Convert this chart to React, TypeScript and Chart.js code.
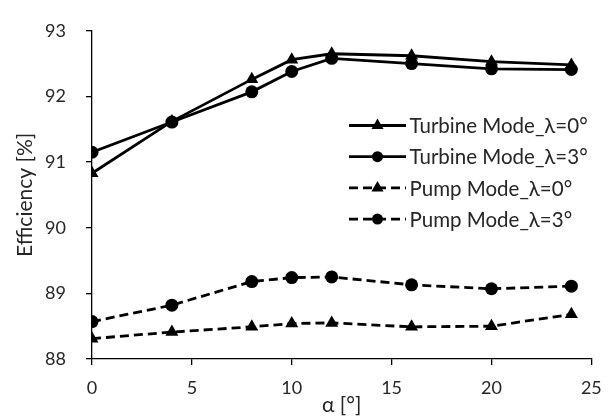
import React, { useEffect, useRef } from "react";
import { Chart, registerables } from "chart.js";

Chart.register(...registerables);

const alpha = [0, 4, 8, 10, 12, 16, 20, 24];
const turbine0 = [90.83, 91.62, 92.26, 92.56, 92.65, 92.62, 92.53, 92.48];
const turbine3 = [91.15, 91.61, 92.07, 92.38, 92.58, 92.5, 92.42, 92.41];
const pump0 = [88.31, 88.41, 88.49, 88.54, 88.55, 88.49, 88.5, 88.68];
const pump3 = [88.57, 88.82, 89.18, 89.24, 89.25, 89.13, 89.07, 89.11];
const seriesLabels = [
  "Turbine Mode_λ=0°",
  "Turbine Mode_λ=3°",
  "Pump Mode_λ=0°",
  "Pump Mode_λ=3°",
];
const xTitle = "α [°]";
const yTitle = "Efficiency [%]";

const FAMILY = "Lato";
const FONT = "Lato, sans-serif";
const TEXT = "#262626";

function fitSize(text: string, target: number, min: number, max: number) {
  const c = document.createElement("canvas").getContext("2d");
  if (!c) return (min + max) / 2;
  c.font = `100px ${FAMILY}`;
  const w = c.measureText(text).width;
  const s = (100 * target) / w;
  return Math.max(min, Math.min(max, Math.round(s * 2) / 2));
}

export default function App() {
  const ref = useRef<HTMLCanvasElement | null>(null);
  useEffect(() => {
    if (!ref.current) return;
    const tickSize = fitSize("93", 21, 15, 21);
    const titleSize = fitSize(yTitle, 125, 17, 24);
    const legendSize = fitSize(seriesLabels[0], 177, 16, 22);

    const legendPlugin = {
      id: "insideLegend",
      afterDatasetsDraw(chart: any) {
        const ctx = chart.ctx;
        const startX = 349;
        const lineLen = 57;
        const y0 = 125.5;
        const dy = 31.2;
        chart.data.datasets.forEach((ds: any, i: number) => {
          const y = y0 + i * dy;
          ctx.save();
          ctx.strokeStyle = "#000";
          ctx.lineWidth = ds.borderWidth;
          ctx.setLineDash(ds.borderDash || []);
          ctx.beginPath();
          ctx.moveTo(startX, y);
          ctx.lineTo(startX + lineLen, y);
          ctx.stroke();
          ctx.setLineDash([]);
          ctx.fillStyle = "#000";
          const cx = startX + lineLen / 2;
          ctx.beginPath();
          if (ds.pointStyle === "triangle") {
            const r = 7;
            ctx.moveTo(cx, y - r);
            ctx.lineTo(cx + r * 0.866, y + r * 0.5);
            ctx.lineTo(cx - r * 0.866, y + r * 0.5);
            ctx.closePath();
          } else {
            ctx.arc(cx, y, 5.5, 0, Math.PI * 2);
          }
          ctx.fill();
          ctx.font = `${legendSize}px ${FONT}`;
          ctx.textBaseline = "middle";
          ctx.textAlign = "left";
          ctx.fillStyle = TEXT;
          ctx.fillText(ds.label, startX + lineLen + 3.5, y + 1);
          ctx.restore();
        });
      },
    };

    const mk = (label: string, data: number[], dashed: boolean, style: string) => ({
      label,
      data: alpha.map((x, i) => ({ x, y: data[i] })),
      borderColor: "#000",
      backgroundColor: "#000",
      borderWidth: 2.8,
      borderDash: dashed ? [9, 5] : [],
      pointStyle: style,
      pointRadius: style === "triangle" ? 7.5 : 6.5,
      pointBorderWidth: 0,
      pointBackgroundColor: "#000",
      tension: 0,
    });
    const chart = new Chart(ref.current, {
      type: "line",
      data: {
        datasets: [
          mk(seriesLabels[0], turbine0, false, "triangle"),
          mk(seriesLabels[1], turbine3, false, "circle"),
          mk(seriesLabels[2], pump0, true, "triangle"),
          mk(seriesLabels[3], pump3, true, "circle"),
        ] as any,
      },
      options: {
        animation: false,
        responsive: false,
        layout: { padding: { top: 15, right: 22, left: 0, bottom: 0 } },
        plugins: { legend: { display: false }, tooltip: { enabled: false } },
        scales: {
          x: {
            type: "linear",
            min: 0,
            max: 25,
            ticks: { stepSize: 5, color: TEXT, font: { family: FONT, size: tickSize }, padding: 23 - tickSize * 0.6, maxRotation: 0 },
            grid: { drawOnChartArea: false, drawTicks: true, tickLength: 6, color: "#000", lineWidth: 1.3 },
            border: { display: true, color: "#000", width: 1.3 },
            title: { display: true, text: xTitle, color: TEXT, font: { family: FONT, size: titleSize }, padding: { top: 0, bottom: Math.max(0, 15 - titleSize * 0.6) } },
            afterFit: (s: any) => { s.height = 61; },
          },
          y: {
            min: 88,
            max: 93,
            ticks: { stepSize: 1, color: TEXT, font: { family: FONT, size: tickSize }, padding: 20 },
            grid: { drawOnChartArea: false, drawTicks: true, tickLength: 6, color: "#000", lineWidth: 1.3 },
            border: { display: true, color: "#000", width: 1.3 },
            title: { display: true, text: yTitle, color: TEXT, font: { family: FONT, size: titleSize }, padding: { top: Math.max(0, 25 - titleSize * 0.6), bottom: 0 } },
            afterFit: (s: any) => { s.width = 92; },
          },
        },
      } as any,
      plugins: [legendPlugin],
    });
    return () => chart.destroy();
  }, []);
  return (
    <div style={{ position: "fixed", left: 0, top: 0, width: 614, height: 420, background: "#fff" }}>
      <canvas ref={ref} width={614} height={420} style={{ width: 614, height: 420, display: "block" }} />
    </div>
  );
}
